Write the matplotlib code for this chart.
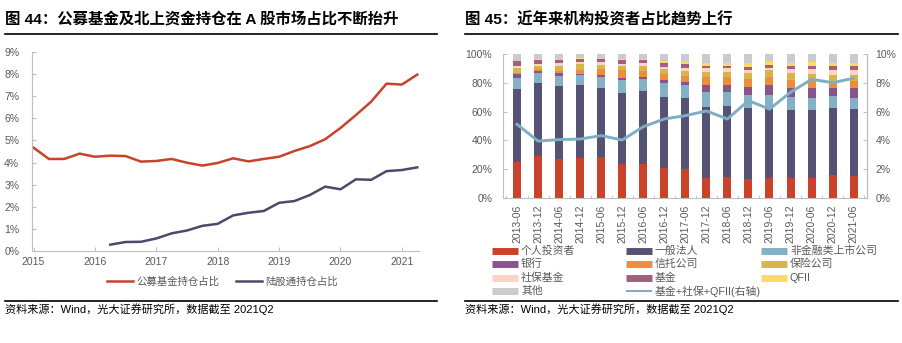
import numpy as np
import matplotlib
matplotlib.use("Agg")
import matplotlib.pyplot as plt
from matplotlib.lines import Line2D
from matplotlib.ticker import FuncFormatter

plt.rcParams['font.family'] = ['Liberation Sans', 'Noto Sans CJK SC', 'DejaVu Sans']

# ---------------- 图44 数据 ----------------
fund_start = 2015.0
fund_share = [4.67, 4.16, 4.16, 4.40, 4.26, 4.31, 4.29, 4.04, 4.07, 4.16, 3.99, 3.86, 3.98,
              4.19, 4.05, 4.16, 4.26, 4.52, 4.74, 5.05, 5.56, 6.14, 6.75, 7.56, 7.52, 7.97]
hk_start = 2016.25
hk_share = [0.29, 0.41, 0.42, 0.57, 0.80, 0.93, 1.14, 1.23, 1.61, 1.73, 1.81, 2.18, 2.26,
            2.53, 2.91, 2.79, 3.24, 3.22, 3.61, 3.66, 3.78]
years = [2015, 2016, 2017, 2018, 2019, 2020, 2021]

# ---------------- 图45 数据 ----------------
periods = ["2013-06", "2013-12", "2014-06", "2014-12", "2015-06", "2015-12", "2016-06",
           "2016-12", "2017-06", "2017-12", "2018-06", "2018-12", "2019-06", "2019-12",
           "2020-06", "2020-12", "2021-06"]
individual = [24.7, 29.3, 26.7, 27.7, 28.1, 23.5, 23.7, 20.5, 19.8, 13.7, 14.4, 12.8, 13.5, 13.5, 13.5, 16.0, 15.3]
general_corp = [51.1, 50.7, 51.4, 50.9, 48.6, 49.8, 50.7, 49.7, 49.5, 49.6, 49.6, 49.5, 48.1, 47.7, 47.7, 46.6, 46.6]
nonfin_listed = [7.7, 7.2, 6.8, 7.2, 7.7, 9.0, 8.6, 9.8, 9.3, 10.2, 10.0, 9.3, 10.0, 8.8, 8.6, 8.3, 7.9]
bank = [2.8, 1.2, 2.3, 0.6, 1.2, 1.4, 1.2, 2.3, 2.3, 5.1, 4.6, 5.4, 7.0, 6.7, 6.5, 5.4, 6.5]
trust = [0.7, 1.1, 0.9, 2.9, 4.2, 5.6, 4.2, 4.0, 4.2, 5.6, 5.8, 5.8, 5.6, 5.6, 5.8, 4.6, 5.3]
insurance = [3.2, 2.6, 4.0, 3.7, 2.8, 2.8, 3.2, 3.5, 3.3, 3.7, 3.5, 4.2, 4.9, 4.4, 4.2, 4.7, 4.0]
social_sec = [1.4, 1.2, 1.6, 1.4, 2.1, 1.4, 2.1, 1.4, 2.3, 2.3, 2.3, 2.3, 1.6, 3.1, 3.5, 3.5, 3.5]
funds = [3.5, 2.7, 2.1, 2.6, 1.8, 2.5, 2.6, 3.0, 2.6, 1.9, 1.7, 2.1, 1.9, 2.3, 2.3, 2.5, 2.8]
qfii = [0.5, 0.5, 0.5, 0.4, 0.5, 0.7, 0.4, 1.1, 1.1, 1.6, 1.8, 2.8, 2.7, 2.1, 2.3, 2.1, 2.3]
others = [4.4, 3.5, 3.7, 2.6, 3.0, 3.3, 3.3, 4.7, 5.6, 6.3, 6.3, 5.8, 4.7, 5.8, 5.6, 6.3, 5.8]
inst_line = [5.12, 3.95, 4.05, 4.09, 4.33, 4.02, 4.95, 5.49, 5.72, 6.05, 5.49, 6.77, 6.18, 7.35, 8.26, 8.02, 8.33]

segments = [
    ("个人投资者", individual, "#C8432A"),
    ("一般法人", general_corp, "#565274"),
    ("非金融类上市公司", nonfin_listed, "#84B1C6"),
    ("银行", bank, "#87558B"),
    ("信托公司", trust, "#F08D3C"),
    ("保险公司", insurance, "#D5B54C"),
    ("社保基金", social_sec, "#FBD4C6"),
    ("基金", funds, "#A1617A"),
    ("QFII", qfii, "#FFD966"),
    ("其他", others, "#CBCBCB"),
]
line_color = "#7EAEC3"
grey_txt = "#595959"
spine_col = "#BFBFBF"

fig = plt.figure(figsize=(9.03, 3.43), dpi=100)

# titles + rules
fig.text(0.006, 0.942, "图 44：公募基金及北上资金持仓在 A 股市场占比不断抬升", fontsize=11.1,
         fontweight="bold", va="center", ha="left")
fig.text(0.515, 0.942, "图 45：近年来机构投资者占比趋势上行", fontsize=11.1,
         fontweight="bold", va="center", ha="left")
fig.add_artist(Line2D([0.006, 0.484], [0.901, 0.901], color="black", lw=1.2))
fig.add_artist(Line2D([0.515, 0.994], [0.901, 0.901], color="black", lw=1.2))
fig.add_artist(Line2D([0.006, 0.484], [0.122, 0.122], color="black", lw=1.2))
fig.add_artist(Line2D([0.515, 0.994], [0.122, 0.122], color="black", lw=1.2))
fig.text(0.006, 0.099, "资料来源：Wind，光大证券研究所，数据截至 2021Q2", fontsize=8, va="center")
fig.text(0.515, 0.099, "资料来源：Wind，光大证券研究所，数据截至 2021Q2", fontsize=8, va="center")

# ---------------- 左图 ----------------
ax1 = fig.add_axes([0.0351, 0.268, 0.4290, 0.581])
x_fund = fund_start + 0.25 * np.arange(len(fund_share))
x_hk = hk_start + 0.25 * np.arange(len(hk_share))
ax1.plot(x_fund, fund_share, color="#C8432A", lw=1.8, label="公募基金持仓占比")
ax1.plot(x_hk, hk_share, color="#4B4A6B", lw=1.8, label="陆股通持仓占比")
ax1.set_xlim(2014.97, 2021.28)
ax1.set_ylim(0, 9)
ax1.set_yticks(range(0, 10))
ax1.yaxis.set_major_formatter(FuncFormatter(lambda v, p: f"{v:.0f}%"))
ax1.set_xticks(years)
ax1.set_xticklabels([str(y) for y in years])
for s in ["top", "right"]:
    ax1.spines[s].set_visible(False)
for s in ["left", "bottom"]:
    ax1.spines[s].set_color(spine_col)
    ax1.spines[s].set_linewidth(0.8)
ax1.tick_params(axis="both", direction="in", length=3, color=spine_col, labelsize=7.5,
                labelcolor=grey_txt)
ax1.tick_params(axis="y", pad=9)
ax1.tick_params(axis="x", pad=4)
ax1.legend(loc="center", bbox_to_anchor=(0.2464, 0.178), bbox_transform=fig.transFigure,
           ncol=2, frameon=False, fontsize=7.5, handlelength=2.5, handletextpad=0.3,
           columnspacing=1.6, labelcolor=grey_txt)

# ---------------- 右图 ----------------
ax2 = fig.add_axes([0.5574, 0.4236, 0.4031, 0.4181])
xpos = np.arange(len(periods))
bottom = np.zeros(len(periods))
for name, vals, col in segments:
    ax2.bar(xpos, vals, width=0.38, bottom=bottom, color=col, label=name)
    bottom += np.array(vals)
ax2.set_ylim(0, 100)
ax2.set_xlim(-0.65, len(periods) - 0.35)
ax2.set_yticks(range(0, 101, 20))
ax2.yaxis.set_major_formatter(FuncFormatter(lambda v, p: f"{v:.0f}%"))
ax2.set_xticks(xpos)
ax2.set_xticklabels(periods, rotation=90)
ax2.set_xticks(np.arange(-0.5, len(periods), 1.0), minor=True)
ax2.tick_params(axis="x", which="major", length=0, labelsize=7.5, labelcolor=grey_txt, pad=5)
ax2.tick_params(axis="x", which="minor", direction="in", length=2.5, color=spine_col)
ax2.tick_params(axis="y", direction="in", length=3, color=spine_col, labelsize=7.5,
                labelcolor=grey_txt, pad=8)
ax2.spines["top"].set_visible(False)
for s in ["left", "bottom", "right"]:
    ax2.spines[s].set_color(spine_col)
    ax2.spines[s].set_linewidth(0.8)

ax3 = ax2.twinx()
ax3.plot(xpos, inst_line, color=line_color, lw=2.1, label="基金+社保+QFII(右轴)")
ax3.set_ylim(0, 10)
ax3.set_yticks(range(0, 11, 2))
ax3.yaxis.set_major_formatter(FuncFormatter(lambda v, p: f"{v:.0f}%"))
ax3.tick_params(axis="y", direction="in", length=3, color=spine_col, labelsize=7.5,
                labelcolor=grey_txt, pad=6)
for s in ["top", "left", "bottom"]:
    ax3.spines[s].set_visible(False)
ax3.spines["right"].set_color(spine_col)
ax3.spines["right"].set_linewidth(0.8)

# legend laid out row by row, three columns
entries = [(n, c, "bar") for n, v, c in segments] + [("基金+社保+QFII(右轴)", line_color, "line")]
col_x = [492, 626, 761]
row_y = [251, 264, 278, 291]
W, H = 903.0, 343.0
for i, (name, col, kind) in enumerate(entries):
    r, c = divmod(i, 3)
    x0 = col_x[c] / W
    x1 = (col_x[c] + 26) / W
    y = 1 - row_y[r] / H
    fig.add_artist(Line2D([x0, x1], [y, y], color=col, lw=5 if kind == "bar" else 1.5,
                          solid_capstyle="butt"))
    fig.text((col_x[c] + 29) / W, y, name, fontsize=7.8, color=grey_txt, va="center")

fig.savefig("out.png", dpi=100)
